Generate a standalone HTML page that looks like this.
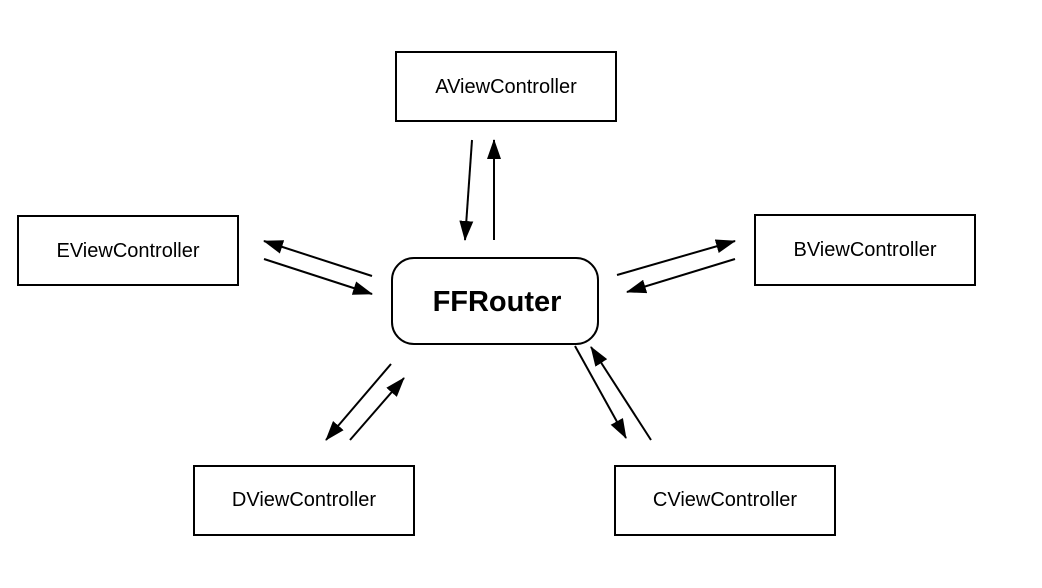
<!DOCTYPE html>
<html><head><meta charset="utf-8"><style>html,body{margin:0;padding:0;background:#fff}svg{display:block}</style></head>
<body>
<svg width="1042" height="588" viewBox="0 0 1042 588" xmlns="http://www.w3.org/2000/svg">
<defs>
<marker id="ah" markerWidth="10" markerHeight="8" refX="9.5" refY="4" orient="auto" markerUnits="userSpaceOnUse" viewBox="0 0 10 8">
<path d="M0,0 L10,4 L0,8 z" fill="#000"/>
</marker>
<marker id="ah2" markerWidth="20" markerHeight="14" refX="19" refY="7" orient="auto" markerUnits="userSpaceOnUse">
<path d="M0,0 L20,7 L0,14 z" fill="#000"/>
</marker>
</defs>
<g fill="#fff" stroke="#000" stroke-width="2">
<rect x="396" y="52" width="220" height="69"/>
<rect x="18" y="216" width="220" height="69"/>
<rect x="755" y="215" width="220" height="70"/>
<rect x="194" y="466" width="220" height="69"/>
<rect x="615" y="466" width="220" height="69"/>
<rect x="392" y="258" width="206" height="86" rx="22" ry="22"/>
</g>
<g font-family="Liberation Sans, Arial, sans-serif" font-size="20" text-anchor="middle" fill="#000">
<text x="506" y="93">AViewController</text>
<text x="128" y="257">EViewController</text>
<text x="865" y="256">BViewController</text>
<text x="304" y="506">DViewController</text>
<text x="725" y="506">CViewController</text>
<text x="497" y="311" font-size="29" font-weight="bold">FFRouter</text>
</g>
<g stroke="#000" stroke-width="2" marker-end="url(#ah2)">
<line x1="472" y1="140" x2="465" y2="240"/>
<line x1="494" y1="240" x2="494" y2="140"/>
<line x1="372" y1="276" x2="264" y2="241"/>
<line x1="264" y1="259" x2="372" y2="294"/>
<line x1="391" y1="364" x2="326" y2="440"/>
<line x1="350" y1="440" x2="404" y2="378"/>
<line x1="617" y1="275" x2="735" y2="241"/>
<line x1="735" y1="259" x2="627" y2="292"/>
<line x1="575" y1="346" x2="626" y2="438"/>
<line x1="651" y1="440" x2="591" y2="347"/>
</g>
</svg>
</body></html>
